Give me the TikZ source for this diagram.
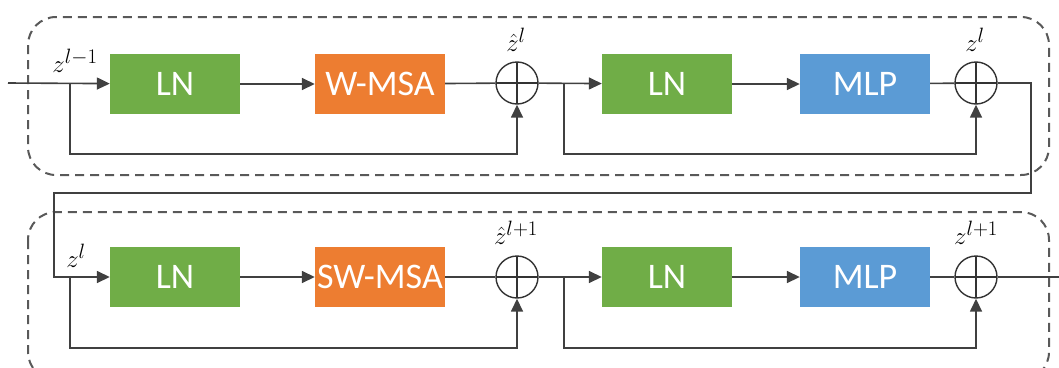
\documentclass[tikz,border=0pt]{standalone}
\usepackage{fontspec}
\setmainfont{Carlito}
\usetikzlibrary{arrows.meta}

\definecolor{lngreen}{HTML}{70AD47}
\definecolor{msaorange}{HTML}{ED7D31}
\definecolor{mlpblue}{HTML}{5B9BD5}

\tikzset{
    block/.style={minimum width=130pt, minimum height=60pt, inner sep=0pt, text=white, font=\fontsize{36}{40}\selectfont},
    sum/.style={circle, draw=black!80, line width=1.4pt, minimum size=42pt, inner sep=0pt,
        path picture={
            \draw[black!80, line width=1.4pt] (path picture bounding box.north) -- (path picture bounding box.south);
            \draw[black!80, line width=1.4pt] (path picture bounding box.west) -- (path picture bounding box.east);
        }},
    line/.style={draw=black!75, line width=1.6pt},
    arr/.style={line, -{Triangle[length=13pt,width=12pt]}},
    stage/.style={draw=black!65, dash pattern=on 9pt off 6pt, line width=2pt, rounded corners=28pt},
    lbl/.style={font=\fontsize{28}{30}\selectfont}
}

\begin{document}
\begin{tikzpicture}[x=1pt, y=-1pt]
    \useasboundingbox (0,0) rectangle (1059,367);

    % Cajas punteadas de los dos bloques
    \draw[stage] (28,17) rectangle (1049,175);
    \draw[stage] (28,212) rectangle (1049,380);

    % Bloque superior
    \node[block, fill=lngreen] (ln1) at (175,84) {LN};
    \node[block, fill=msaorange] (wmsa) at (380,84) {W-MSA};
    \node[sum] (add1) at (517,83) {};
    \node[block, fill=lngreen] (ln2) at (667,84) {LN};
    \node[block, fill=mlpblue] (mlp1) at (865,84) {MLP};
    \node[sum] (add2) at (976,83) {};

    % Bloque inferior
    \node[block, fill=lngreen] (ln3) at (175,277) {LN};
    \node[block, fill=msaorange] (swmsa) at (380,277) {SW-MSA};
    \node[sum] (add3) at (517,277) {};
    \node[block, fill=lngreen] (ln4) at (667,277) {LN};
    \node[block, fill=mlpblue] (mlp2) at (865,277) {MLP};
    \node[sum] (add4) at (976,277) {};

    % Puntos de bifurcacion
    \coordinate (in) at (8,83);
    \coordinate (br1) at (70,83);
    \coordinate (br2) at (564,83);
    \coordinate (turn) at (1031,83);
    \coordinate (back) at (54,193);
    \coordinate (br3) at (70,277);
    \coordinate (br4) at (564,277);
    \coordinate (out) at (1059,277);

    % Conexiones superiores
    \draw[arr] (in) -- (ln1);
    \draw[arr] (ln1) -- (wmsa);
    \draw[line] (wmsa) -- (add1);
    \draw[arr] (add1) -- (ln2);
    \draw[arr] (ln2) -- (mlp1);
    \draw[line] (mlp1) -- (add2);
    \draw[arr] (br1) -- ++(0,71) -| (add1.south);
    \draw[arr] (br2) -- ++(0,71) -| (add2.south);

    % Paso al bloque inferior
    \draw[arr] (add2) -- (turn) |- (back) |- (ln3.west);

    % Conexiones inferiores
    \draw[arr] (ln3) -- (swmsa);
    \draw[line] (swmsa) -- (add3);
    \draw[arr] (add3) -- (ln4);
    \draw[arr] (ln4) -- (mlp2);
    \draw[line] (mlp2) -- (add4);
    \draw[line] (add4) -- (out);
    \draw[arr] (br3) -- ++(0,71) -| (add3.south);
    \draw[arr] (br4) -- ++(0,71) -| (add4.south);

    % Etiquetas
    \node[lbl] (zin) at (75,61) {$z^{l-1}$};
    \node[lbl] (zhat1) at (516,40) {$\hat{z}^{l}$};
    \node[lbl] (zout1) at (975,40) {$z^{l}$};
    \node[lbl] (zmid) at (76,256) {$z^{l}$};
    \node[lbl] (zhat2) at (516,233) {$\hat{z}^{l+1}$};
    \node[lbl] (zout2) at (976,233) {$z^{l+1}$};
\end{tikzpicture}
\end{document}
